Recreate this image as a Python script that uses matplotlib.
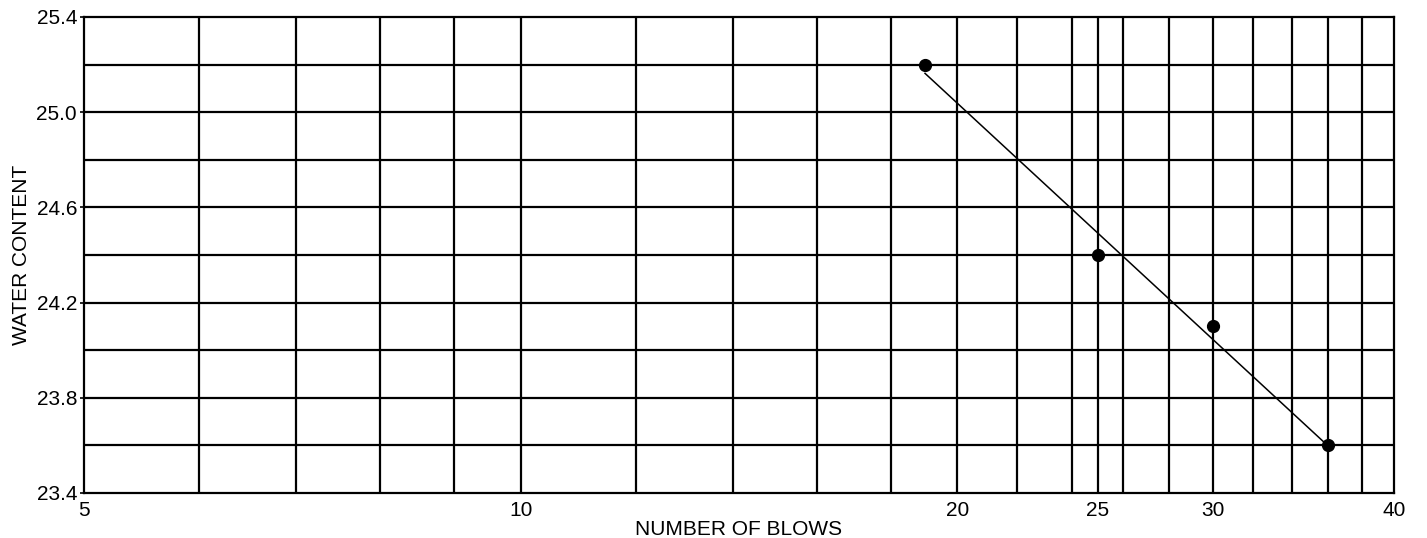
import numpy as np
import matplotlib
matplotlib.use("Agg")
import matplotlib.pyplot as plt
from matplotlib.ticker import FixedLocator, NullFormatter, NullLocator

plt.rcParams['font.family'] = ['Liberation Sans', 'DejaVu Sans']

# Liquid limit test data
blows = [19, 25, 30, 36]
water_content = [25.2, 24.4, 24.1, 23.6]

# Axis ticks and grid positions
x_labels = [5, 10, 20, 25, 30, 40]
x_grid = [6, 7, 8, 9, 10, 12, 14, 16, 18, 20, 22, 24, 25, 26, 28, 30, 32, 34, 36, 38]
y_labels = [23.4, 23.8, 24.2, 24.6, 25.0, 25.4]
y_grid = [23.6, 23.8, 24.0, 24.2, 24.4, 24.6, 24.8, 25.0, 25.2]

fig = plt.figure(figsize=(14.27, 5.38), dpi=100)
ax = fig.add_axes([84 / 1427, 1 - 493 / 538, 1310 / 1427, 476 / 538])

# Flow curve: least-squares line on log scale
slope, icpt = np.polyfit(np.log10(blows), water_content, 1)
x_fit = np.array([min(blows), max(blows)])
ax.plot(x_fit, slope * np.log10(x_fit) + icpt, color='black', lw=1.1, zorder=3)
ax.plot(blows, water_content, 'o', color='black', ms=8.5, zorder=4)

ax.set_xscale('log')
ax.set_xlim(5, 40)
ax.set_ylim(23.4, 25.4)

# grid lines
for gx in x_grid:
    ax.axvline(gx, color='black', lw=1.6, zorder=1)
for gy in y_grid:
    ax.axhline(gy, color='black', lw=1.6, zorder=1)

ax.xaxis.set_major_locator(FixedLocator(x_labels))
ax.xaxis.set_minor_locator(NullLocator())
ax.xaxis.set_minor_formatter(NullFormatter())
ax.set_xticklabels([str(v) for v in x_labels])
ax.set_yticks(y_labels)
ax.set_yticklabels([f"{v:.1f}" for v in y_labels])

ax.tick_params(axis='x', length=0, pad=6, labelsize=15)
ax.tick_params(axis='y', length=3, width=1.2, pad=2, labelsize=15)

for sp in ax.spines.values():
    sp.set_linewidth(1.6)

ax.set_xlabel("NUMBER OF BLOWS", fontsize=15, labelpad=0)
ax.set_ylabel("WATER CONTENT", fontsize=15, labelpad=4)

fig.savefig("out.png", dpi=100)
